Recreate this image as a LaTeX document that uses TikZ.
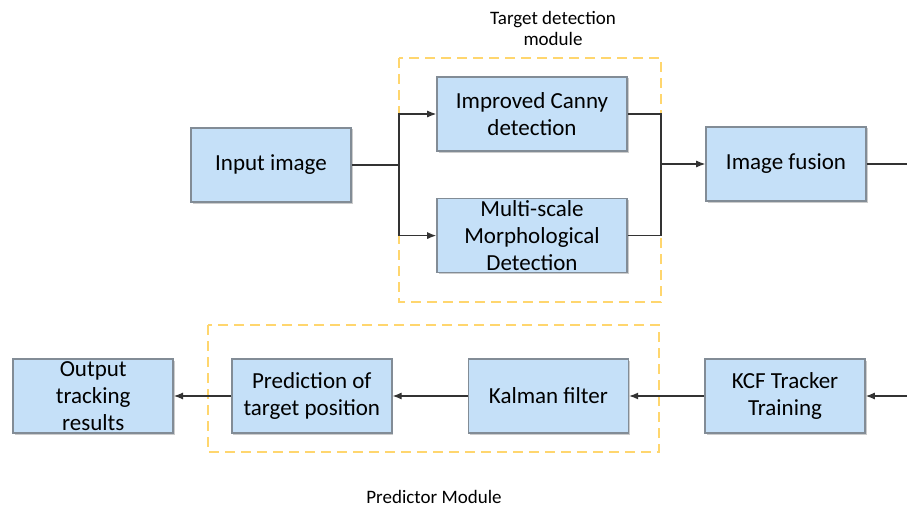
\documentclass[tikz,border=0pt]{standalone}
\usepackage{fontspec}
\setmainfont{Carlito}
\usetikzlibrary{positioning,arrows.meta,shadows}

\definecolor{boxblue}{RGB}{197,224,248}
\definecolor{boxedge}{RGB}{130,140,150}
\definecolor{modyellow}{RGB}{255,214,110}

\tikzset{
  blk/.style={draw=boxedge, fill=boxblue, line width=1.6pt,
    minimum width=160pt, minimum height=74pt, inner xsep=2pt, inner ysep=0pt,
    align=center, font=\fontsize{23}{27}\selectfont,
    drop shadow={shadow xshift=1.5pt, shadow yshift=-1.5pt, opacity=0.4}},
  wideblk/.style={blk, minimum width=190pt},
  lnk/.style={line width=1.1pt, draw=black!80},
  arr/.style={lnk, -{Latex[length=9pt,width=7pt]}},
  modframe/.style={draw=modyellow, line width=1.4pt, dash pattern=on 10pt off 6pt},
  modlabel/.style={font=\fontsize{19}{21}\selectfont, align=center}
}

\begin{document}
\begin{tikzpicture}[x=1pt,y=-1pt]
  \useasboundingbox (0,0) rectangle (907,508);

  % module frames
  \draw[modframe] (399,58) rectangle (661,302);
  \draw[modframe] (208,325) rectangle (659,452);
  \node[modlabel] (tdm) at (553,28) {Target detection\\module};
  \node[modlabel] (pm) at (434,497) {Predictor Module};

  % upper row
  \node[blk] (inp) at (271,165) {Input image};
  \node[wideblk] (cny) at (532,114) {Improved Canny\\detection};
  \node[wideblk, below=46pt of cny] (mor) {Multi-scale\\Morphological\\Detection};
  \node[blk] (fus) at (786,164) {Image fusion};

  % lower row
  \node[blk] (kcf) at (785,396) {KCF Tracker\\Training};
  \node[blk, left=75pt of kcf] (kal) {Kalman filter};
  \node[blk, left=75pt of kal] (pre) {Prediction of\\target position};
  \node[blk, left=57pt of pre] (out) {Output\\tracking\\results};

  \coordinate (sp) at (399,165);
  \coordinate (mg) at (661,164);
  \coordinate (e1) at (907,164);
  \coordinate (e2) at (907,396);

  \draw[lnk] (inp) -- (sp);
  \draw[arr] (sp) |- (cny);
  \draw[arr] (sp) |- (mor);
  \draw[lnk] (cny) -| (mg);
  \draw[lnk] (mor) -| (mg);
  \draw[arr] (mg) -- (fus);
  \draw[lnk] (fus) -- (e1);

  \draw[arr] (e2) -- (kcf);
  \draw[arr] (kcf) -- (kal);
  \draw[arr] (kal) -- (pre);
  \draw[arr] (pre) -- (out);
\end{tikzpicture}
\end{document}
